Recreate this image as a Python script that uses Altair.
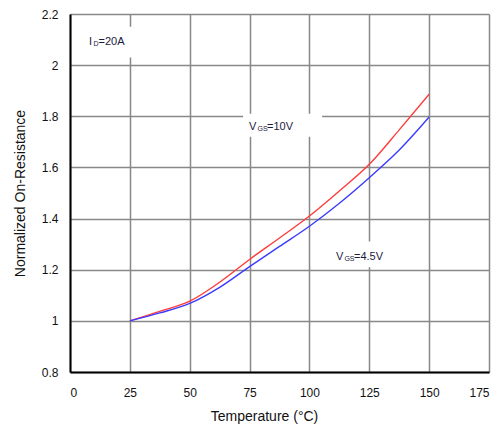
import altair as alt
import pandas as pd

temps = [25, 37.5, 50, 62.5, 75, 87.5, 100, 112.5, 125, 137.5, 150]
r_vgs10 = [1.0, 1.037, 1.077, 1.151, 1.24, 1.324, 1.41, 1.508, 1.612, 1.747, 1.886]
r_vgs45 = [1.0, 1.031, 1.068, 1.131, 1.212, 1.291, 1.37, 1.46, 1.56, 1.668, 1.797]
series = ["VGS=10V", "VGS=4.5V"]
colors = ["#ff3b3b", "#3b3bff"]

x_ticks = [0, 25, 50, 75, 100, 125, 150, 175]
y_ticks = [0.8, 1.0, 1.2, 1.4, 1.6, 1.8, 2.0, 2.2]

# annotation label boxes (data coordinates)
box_x = [3, 72.3, 108.6]
box_x2 = [27.5, 105.3, 137.8]
box_y = [2.03, 1.72, 1.21]
box_y2 = [2.15, 1.81, 1.31]

# annotation text parts
ann_text = ["I", "D", "=20A", "V", "GS", "=10V", "V", "GS", "=4.5V"]
ann_x = [7.9, 9.8, 11.9, 74.8, 78.3, 82.3, 111.1, 114.6, 118.6]
ann_y = [2.09, 2.082, 2.09, 1.758, 1.75, 1.758, 1.25, 1.242, 1.25]
ann_size = [11, 7, 11, 11, 7, 11, 11, 7, 11]

rows = []
for t, a, b in zip(temps, r_vgs10, r_vgs45):
    rows.append({"T": t, "R": a, "s": series[0]})
    rows.append({"T": t, "R": b, "s": series[1]})
df = pd.DataFrame(rows)

boxes = pd.DataFrame({"x": box_x, "x2": box_x2, "y": box_y, "y2": box_y2})
ann = pd.DataFrame({"t": ann_text, "x": ann_x, "y": ann_y, "size": ann_size})

xs = alt.Scale(domain=[0, 175], nice=False, zero=False)
ys = alt.Scale(domain=[0.8, 2.2], nice=False, zero=False)

xax = alt.Axis(values=x_ticks, title="Temperature (°C)", grid=True, ticks=False,
               labelPadding=15, titlePadding=11, titleX=194,
               domainColor="#000", domainWidth=2)
yax = alt.Axis(values=y_ticks, title="Normalized On-Resistance", grid=True, ticks=False,
               format=".1~f", labelPadding=12, titlePadding=14,
               domainColor="#000", domainWidth=2)

lines = alt.Chart(df).mark_line(strokeWidth=1.4, interpolate="monotone").encode(
    x=alt.X("T:Q", scale=xs, axis=xax),
    y=alt.Y("R:Q", scale=ys, axis=yax),
    color=alt.Color("s:N", scale=alt.Scale(domain=series, range=colors), legend=None),
)

rects = alt.Chart(boxes).mark_rect(color="white").encode(
    x=alt.X("x:Q", scale=xs), x2="x2:Q",
    y=alt.Y("y:Q", scale=ys), y2="y2:Q",
)

texts = alt.Chart(ann).mark_text(align="left", baseline="middle", font="Liberation Sans",
                                 color="#1a1a40").encode(
    x=alt.X("x:Q", scale=xs),
    y=alt.Y("y:Q", scale=ys),
    text="t:N",
    size=alt.Size("size:Q", scale=None, legend=None),
)

chart = alt.layer(rects, lines, texts).properties(
    width=419, height=358,
    autosize=alt.AutoSizeParams(type="none"),
    padding={"left": 62, "top": 6, "right": 7, "bottom": 55},
).configure_view(stroke=None).configure_axis(
    gridColor="#888888", gridWidth=1.5, labelFont="Liberation Sans", titleFont="Liberation Sans",
    labelFontSize=12, titleFontSize=14, labelColor="#111", titleColor="#111",
    titleFontWeight="normal",
)

chart.save("out.html", embed_options={"renderer": "svg", "actions": False})
